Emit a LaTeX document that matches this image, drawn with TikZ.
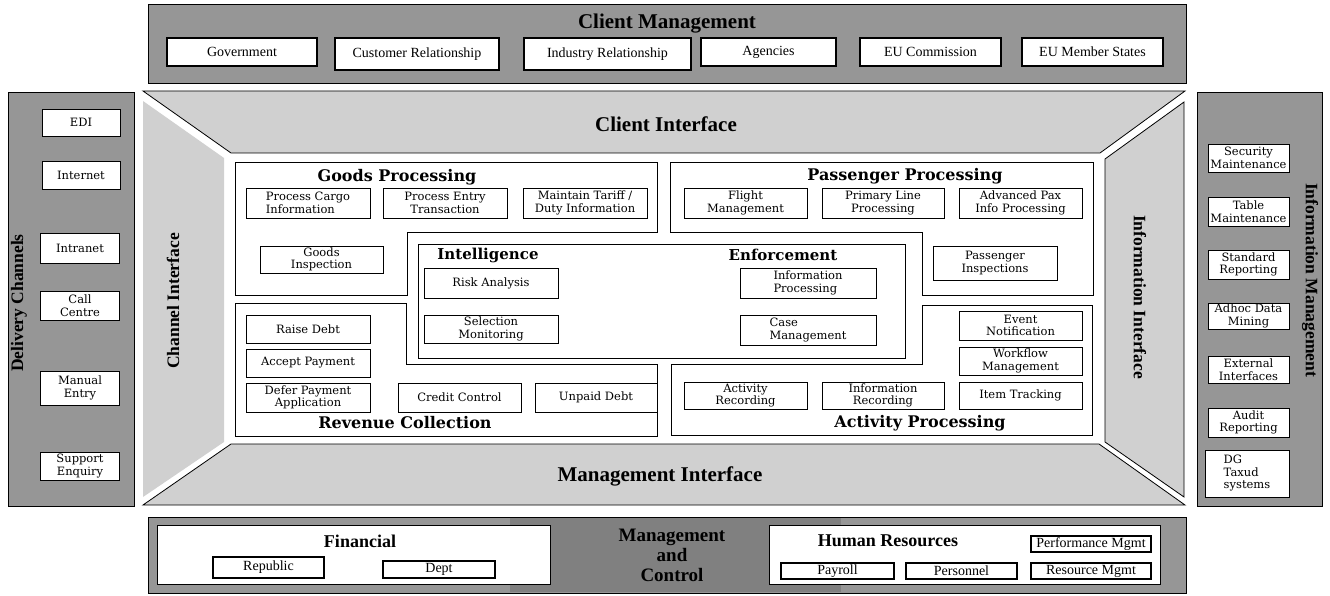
\documentclass[tikz,border=0pt]{standalone}
\usepackage{fontspec}
\setmainfont{Liberation Serif}
\newfontfamily\boxfont{DejaVu Serif}
\usepackage{tikz}
\definecolor{bandgray}{RGB}{150,150,150}
\definecolor{midgray}{RGB}{128,128,128}
\definecolor{panelgray}{RGB}{208,208,208}

\begin{document}
\begin{tikzpicture}[x=1pt, y=-1pt,
  band/.style={draw=black, line width=1pt, fill=bandgray},
  zone/.style={draw=black, line width=1pt, fill=white},
  cbox/.style={draw=black, line width=0.9pt, fill=white, inner sep=0pt, align=center,
    font=\boxfont\fontsize{11.5}{12.5}\selectfont},
  tbox/.style={draw=black, line width=1.1pt, fill=white, inner sep=0pt, align=center,
    font=\fontsize{14}{15}\selectfont},
  bigtitle/.style={font=\bfseries\fontsize{21}{21}\selectfont, align=center},
  sidetitle/.style={font=\bfseries\fontsize{17.5}{18}\selectfont},
  zonetitle/.style={font=\boxfont\bfseries\fontsize{16}{17}\selectfont}]
  \useasboundingbox (0,0) rectangle (1330,596);

  % Client Management
  \draw[band] (148,5) rectangle (1186,84);
  \node[bigtitle] (clmg) at (667,24) {Client Management};
  \node[tbox, minimum width=150pt, minimum height=28pt] (gov) at (242,52) {Government};
  \node[tbox, minimum width=164pt, minimum height=32pt] (cusr) at (417,54) {Customer Relationship};
  \node[tbox, minimum width=167pt, minimum height=32pt] (indr) at (607.5,54) {Industry Relationship};
  \node[tbox, minimum width=135pt, minimum height=28pt] (agen) at (768.5,52) {Agencies};
  \node[tbox, minimum width=141pt, minimum height=28pt] (euco) at (930.5,52) {EU Commission};
  \node[tbox, minimum width=141pt, minimum height=28pt] (eums) at (1092.5,52) {EU Member States};

  % Interfaces
  \draw[fill=panelgray, line width=0.8pt] (143,91) -- (1185,91) -- (1100,153) -- (231,153) -- cycle;
  \fill[panelgray] (143,101) -- (224,158) -- (224,442) -- (143,497) -- cycle;
  \draw[fill=panelgray, line width=0.8pt] (1105,159) -- (1184,102) -- (1184,497) -- (1105,442) -- cycle;
  \draw[fill=panelgray, line width=0.8pt] (231,444) -- (1099,444) -- (1185,505) -- (143,505) -- cycle;
  \node[bigtitle] (clif) at (666,124) {Client Interface};
  \node[sidetitle, rotate=90] (chif) at (173,301) {Channel Interface};
  \node[sidetitle, rotate=-90] (inif) at (1140,297) {Information Interface};
  \node[bigtitle] (mgif) at (660,476) {Management Interface};

  % Processing zones
  \draw[zone] (235,163) -- (657,163) -- (657,232) -- (407,232) -- (407,295) -- (235,295) -- cycle;
  \draw[zone] (670,163) -- (1093,163) -- (1093,295) -- (922,295) -- (922,232) -- (670,232) -- cycle;
  \draw[zone] (235,303) -- (406,303) -- (406,364) -- (657,364) -- (657,436) -- (235,436) -- cycle;
  \draw[zone] (671,364) -- (922,364) -- (922,305) -- (1092,305) -- (1092,435) -- (671,435) -- cycle;
  \draw[zone] (418,244) rectangle (905,358);

  % Goods Processing
  \node[zonetitle] (gdpr) at (397,177) {Goods Processing};
  \node[cbox, align=left, minimum width=124pt, minimum height=30pt] (pcgi) at (308,203) {Process Cargo\\Information};
  \node[cbox, minimum width=124pt, minimum height=30pt] (pent) at (445,203) {Process Entry\\Transaction};
  \node[cbox, minimum width=124pt, minimum height=30pt] (mtdi) at (585,203) {Maintain Tariff /\\Duty Information};
  \node[cbox, minimum width=123pt, minimum height=27pt] (gdin) at (321.5,259.5) {Goods\\Inspection};

  % Passenger Processing
  \node[zonetitle] (pspr) at (905,176) {Passenger Processing};
  \node[cbox, minimum width=123pt, minimum height=30pt] (fltm) at (745.5,203) {Flight\\Management};
  \node[cbox, minimum width=122pt, minimum height=30pt] (prlp) at (883,203) {Primary Line\\Processing};
  \node[cbox, minimum width=123pt, minimum height=30pt] (apip) at (1020.5,203) {Advanced Pax\\Info Processing};
  \node[cbox, minimum width=124pt, minimum height=34pt] (psin) at (995,263) {Passenger\\Inspections};

  % Intelligence and Enforcement
  \node[zonetitle, font=\boxfont\bfseries\fontsize{15}{16}\selectfont] (intl) at (488,255) {Intelligence};
  \node[zonetitle, font=\boxfont\bfseries\fontsize{15}{16}\selectfont] (enfc) at (783,255) {Enforcement};
  \node[cbox, minimum width=134pt, minimum height=30pt] (rska) at (491,283) {Risk Analysis};
  \node[cbox, minimum width=134pt, minimum height=28pt] (selm) at (491,329) {Selection\\Monitoring};
  \node[cbox, align=left, minimum width=136pt, minimum height=30pt] (infp) at (808,283) {Information\\Processing};
  \node[cbox, align=left, minimum width=136pt, minimum height=30pt] (casm) at (808,330) {Case\\Management};

  % Revenue Collection
  \node[zonetitle] (rvcl) at (405,423) {Revenue Collection};
  \node[cbox, minimum width=124pt, minimum height=28pt] (rsdb) at (308,329) {Raise Debt};
  \node[cbox, minimum width=124pt, minimum height=28pt] (accp) at (308,363) {Accept Payment};
  \node[cbox, minimum width=124pt, minimum height=29pt] (dfpa) at (308,397.5) {Defer Payment\\Application};
  \node[cbox, minimum width=123pt, minimum height=29pt] (crct) at (459.5,397.5) {Credit Control};
  \node[cbox, minimum width=122pt, minimum height=29pt] (updb) at (596,397.5) {Unpaid Debt};

  % Activity Processing
  \node[zonetitle] (acpr) at (920,423) {Activity Processing};
  \node[cbox, minimum width=123pt, minimum height=29pt] (evnt) at (1020.5,325.5) {Event\\Notification};
  \node[cbox, minimum width=123pt, minimum height=28pt] (wkfm) at (1020.5,361) {Workflow\\Management};
  \node[cbox, minimum width=123pt, minimum height=27pt] (itmt) at (1020.5,395.5) {Item Tracking};
  \node[cbox, minimum width=123pt, minimum height=27pt] (actr) at (745.5,395.5) {Activity\\Recording};
  \node[cbox, minimum width=122pt, minimum height=27pt] (infr) at (883,395.5) {Information\\Recording};

  % Delivery Channels
  \draw[band] (8,93) rectangle (134,506);
  \node[sidetitle, rotate=90] (dlch) at (19,303) {Delivery Channels};
  \node[cbox, minimum width=78pt, minimum height=27pt] (edi) at (81,122.5) {EDI};
  \node[cbox, minimum width=78pt, minimum height=28pt] (inet) at (81,175) {Internet};
  \node[cbox, minimum width=79pt, minimum height=30pt] (intr) at (80,248) {Intranet};
  \node[cbox, minimum width=79pt, minimum height=29pt] (calc) at (80,305.5) {Call\\Centre};
  \node[cbox, minimum width=79pt, minimum height=34pt] (mane) at (80,388) {Manual\\Entry};
  \node[cbox, minimum width=79pt, minimum height=28pt] (supe) at (80,466) {Support\\Enquiry};

  % Information Management
  \draw[band] (1197,93) rectangle (1322,506);
  \node[sidetitle, rotate=-90] (inmg) at (1310,280) {Information Management};
  \node[cbox, minimum width=81pt, minimum height=28pt] (secm) at (1248.5,158) {Security\\Maintenance};
  \node[cbox, minimum width=81pt, minimum height=29pt] (tblm) at (1248.5,211.5) {Table\\Maintenance};
  \node[cbox, minimum width=81pt, minimum height=29pt] (stdr) at (1248.5,264.5) {Standard\\Reporting};
  \node[cbox, minimum width=81pt, minimum height=26pt] (adhm) at (1248.5,316) {Adhoc Data\\Mining};
  \node[cbox, minimum width=81pt, minimum height=27pt] (extf) at (1248.5,369.5) {External\\Interfaces};
  \node[cbox, minimum width=81pt, minimum height=29pt] (audr) at (1248.5,422.5) {Audit\\Reporting};
  \node[cbox, align=left, minimum width=84pt, minimum height=47pt] (dgts) at (1247,473.5) {DG\\Taxud\\systems};

  % Management and Control
  \draw[band] (148,517) rectangle (1186,593);
  \fill[midgray] (510,518) rectangle (841,592);
  \draw[zone] (157,525) rectangle (550,584);
  \draw[zone] (769,525) rectangle (1160,584);
  \node[bigtitle, font=\bfseries\fontsize{18}{18}\selectfont] (finl) at (360,541) {Financial};
  \node[bigtitle, font=\bfseries\fontsize{18}{18}\selectfont] (humr) at (888,541) {Human Resources};
  \node[bigtitle, font=\bfseries\fontsize{19}{20}\selectfont] (mgct) at (672,555) {Management\\and\\Control};
  \node[tbox, minimum width=111pt, minimum height=21pt] (repb) at (268.5,567.5) {Republic};
  \node[tbox, minimum width=112pt, minimum height=17pt] (dept) at (439,569.5) {Dept};
  \node[tbox, minimum width=120pt, minimum height=16pt] (perf) at (1091,544) {Performance Mgmt};
  \node[tbox, minimum width=113pt, minimum height=16pt] (payr) at (837.5,571) {Payroll};
  \node[tbox, minimum width=111pt, minimum height=16pt] (pers) at (961.5,571) {Personnel};
  \node[tbox, minimum width=120pt, minimum height=16pt] (resm) at (1091,571) {Resource Mgmt};
\end{tikzpicture}
\end{document}
